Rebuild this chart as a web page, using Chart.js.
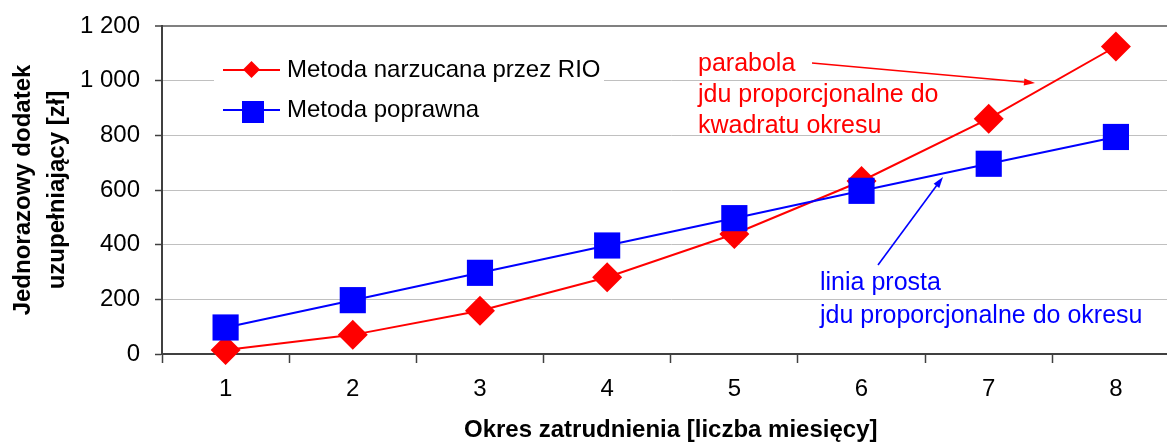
<!DOCTYPE html>
<html>
<head>
<meta charset="utf-8">
<script src="https://cdn.jsdelivr.net/npm/chart.js@4/dist/chart.umd.min.js"></script>
<style>
  html, body { margin: 0; padding: 0; overflow: hidden; background: #fff; }
  canvas { display: block; }
</style>
</head>
<body>
<!-- wider than the window: the plot in the original runs past the right edge -->
<canvas id="chart" width="1198" height="445"></canvas>
<script>
// data
const months = ['1', '2', '3', '4', '5', '6', '7', '8'];
const rioValues = [15, 70, 158, 281, 439, 633, 861, 1125];
const correctValues = [97, 197, 297, 397, 497, 597, 696, 794];
const yTicks = [0, 200, 400, 600, 800, 1000, 1200];

const seriesNames = ['Metoda narzucana przez RIO', 'Metoda poprawna'];
const redNote = ['parabola', 'jdu proporcjonalne do', 'kwadratu okresu'];
const blueNote = ['linia prosta', 'jdu proporcjonalne do okresu'];

const FONT = '"Liberation Sans", Arial, sans-serif';
const RED = '#ff0000';
const BLUE = '#0000ff';

function fmt(v) {
    return String(v).replace(/\B(?=(\d{3})+(?!\d))/g, ' ');
}

// fixed box sizes so the plot area sits where it does in the original
function fixBox(size) {
    return function(scale) {
        if (scale.isHorizontal()) scale.height = size;
        else scale.width = size;
        scale.paddingTop = scale.paddingBottom = 0;
        scale.paddingLeft = scale.paddingRight = 0;
    };
}

function arrow(ctx, x1, y1, x2, y2, color) {
    const a = Math.atan2(y2 - y1, x2 - x1);
    const h = 11, w = 3.5;
    ctx.strokeStyle = color;
    ctx.fillStyle = color;
    ctx.lineWidth = 1.6;
    ctx.beginPath();
    ctx.moveTo(x1, y1);
    ctx.lineTo(x2 - h * 0.8 * Math.cos(a), y2 - h * 0.8 * Math.sin(a));
    ctx.stroke();
    ctx.beginPath();
    ctx.moveTo(x2, y2);
    ctx.lineTo(x2 - h * Math.cos(a) + w * Math.sin(a), y2 - h * Math.sin(a) - w * Math.cos(a));
    ctx.lineTo(x2 - h * Math.cos(a) - w * Math.sin(a), y2 - h * Math.sin(a) + w * Math.cos(a));
    ctx.closePath();
    ctx.fill();
}

// legend box inside the plot + text notes with arrows
const extras = {
    id: 'extras',
    afterDraw(chart) {
        const ctx = chart.ctx;
        ctx.save();

        // legend
        ctx.fillStyle = '#fff';
        ctx.fillRect(214, 48, 390, 82);
        ctx.font = '24px ' + FONT;
        ctx.textBaseline = 'middle';
        ctx.textAlign = 'left';

        ctx.strokeStyle = RED; ctx.lineWidth = 2;
        ctx.beginPath(); ctx.moveTo(223, 70); ctx.lineTo(280, 70); ctx.stroke();
        ctx.fillStyle = RED;
        ctx.beginPath();
        ctx.moveTo(251.5, 61); ctx.lineTo(260, 69.5); ctx.lineTo(251.5, 78); ctx.lineTo(243, 69.5);
        ctx.closePath(); ctx.fill();
        ctx.fillStyle = '#000';
        ctx.fillText(seriesNames[0], 287, 70);

        ctx.strokeStyle = BLUE;
        ctx.beginPath(); ctx.moveTo(223, 110); ctx.lineTo(280, 110); ctx.stroke();
        ctx.fillStyle = BLUE;
        ctx.fillRect(242, 101, 22, 22);
        ctx.fillStyle = '#000';
        ctx.fillText(seriesNames[1], 287, 110);

        // notes
        ctx.font = '25px ' + FONT;
        ctx.textBaseline = 'alphabetic';
        ctx.fillStyle = RED;
        redNote.forEach((t, i) => ctx.fillText(t, 698, 71 + i * 31));
        arrow(ctx, 812, 63, 1035, 83, RED);

        ctx.fillStyle = BLUE;
        blueNote.forEach((t, i) => ctx.fillText(t, 820, 290 + i * 33));
        arrow(ctx, 878, 265, 943, 177, BLUE);

        ctx.restore();
    }
};

new Chart(document.getElementById('chart'), {
    type: 'line',
    data: {
        labels: months,
        datasets: [{
            label: seriesNames[0],
            data: rioValues,
            borderColor: RED,
            backgroundColor: RED,
            borderWidth: 2,
            pointStyle: 'rectRot',
            pointRadius: 15,
            pointHoverRadius: 15,
            pointBorderWidth: 0,
            tension: 0,
            order: 1,
            clip: false
        }, {
            label: seriesNames[1],
            data: correctValues,
            borderColor: BLUE,
            backgroundColor: BLUE,
            borderWidth: 2,
            pointStyle: 'rect',
            pointRadius: 18.5,
            pointHoverRadius: 18.5,
            pointBorderWidth: 0,
            tension: 0,
            order: 0,
            clip: false
        }]
    },
    options: {
        responsive: false,
        animation: false,
        events: [],
        layout: {
            padding: { top: 26, left: 0, right: 0, bottom: 0 }
        },
        plugins: {
            legend: { display: false },
            tooltip: { enabled: false }
        },
        scales: {
            x: {
                offset: true,
                grid: {
                    display: true,
                    offset: true,
                    drawOnChartArea: false,
                    tickLength: 9,
                    tickColor: '#404040',
                    tickWidth: 1.5
                },
                border: { color: '#404040', width: 2 },
                ticks: {
                    color: '#000',
                    padding: 12,
                    maxRotation: 0,
                    font: { family: FONT, size: 24 }
                },
                title: {
                    display: true,
                    text: 'Okres zatrudnienia [liczba miesięcy]',
                    color: '#000',
                    padding: { top: 0, bottom: 0 },
                    font: { family: FONT, size: 24, weight: 'bold' }
                },
                afterFit: fixBox(91)
            },
            y: {
                min: 0,
                max: 1200,
                afterBuildTicks(scale) {
                    scale.ticks = yTicks.map(v => ({ value: v }));
                },
                grid: {
                    color: c => (c.tick && c.tick.value === 1200) ? '#808080' : '#c0c0c0',
                    lineWidth: c => (c.tick && c.tick.value === 1200) ? 2 : 1,
                    tickLength: 7,
                    tickColor: '#404040',
                    tickWidth: 1.5
                },
                border: { color: '#404040', width: 2 },
                ticks: {
                    color: '#000',
                    padding: 15,
                    font: { family: FONT, size: 24 },
                    callback: v => fmt(v)
                },
                title: {
                    display: true,
                    text: ['Jednorazowy dodatek', 'uzupełniający [zł]'],
                    color: '#000',
                    padding: { top: 7, bottom: 0 },
                    font: { family: FONT, size: 24, weight: 'bold', lineHeight: 1.4 }
                },
                afterFit: fixBox(162)
            }
        }
    },
    plugins: [extras]
});
</script>
</body>
</html>
